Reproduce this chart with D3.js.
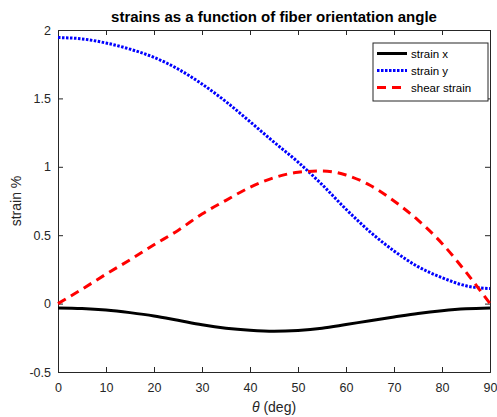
<!DOCTYPE html>
<html>
<head>
<meta charset="utf-8">
<script src="https://cdn.jsdelivr.net/npm/d3@7"></script>
<style>
  body { margin: 0; background: #fff; }
  text { font-family: "Liberation Sans", Arial, sans-serif; }
</style>
</head>
<body>
<script>
// fiber angle (deg)
var theta = [0, 5, 10, 15, 20, 25, 30, 35, 40, 45, 50, 55, 60, 65, 70, 75, 80, 85, 90];

var strainX = [-0.032, -0.036, -0.047, -0.066, -0.09, -0.122, -0.155, -0.18, -0.195, -0.202,
               -0.196, -0.18, -0.153, -0.125, -0.098, -0.072, -0.052, -0.038, -0.032];
var strainY = [1.945, 1.935, 1.905, 1.86, 1.80, 1.715, 1.605, 1.476, 1.33, 1.18,
               1.035, 0.87, 0.69, 0.525, 0.385, 0.27, 0.19, 0.13, 0.11];
var shear = [0, 0.105, 0.215, 0.32, 0.43, 0.535, 0.655, 0.755, 0.85, 0.92,
             0.96, 0.97, 0.94, 0.865, 0.75, 0.61, 0.44, 0.23, 0];

var xTicks = [0, 10, 20, 30, 40, 50, 60, 70, 80, 90];
var yTicks = [-0.5, 0, 0.5, 1, 1.5, 2];

var margin = {left: 58, right: 7, top: 30, bottom: 45};
var W = 497, H = 417;
var width = W - margin.left - margin.right;
var height = H - margin.top - margin.bottom;

var axisCol = "#262626";

var x = d3.scaleLinear().domain([0, 90]).range([0, width]);
var y = d3.scaleLinear().domain([-0.5, 2]).range([height, 0]);

var svg = d3.select("body").append("svg").attr("width", W).attr("height", H);
var g = svg.append("g").attr("transform", "translate(" + margin.left + "," + margin.top + ")");

// axes, MATLAB style box with inner ticks
var xAxis = d3.axisBottom(x).tickValues(xTicks).tickSize(-5).tickPadding(11).tickFormat(d3.format("d"));
var yAxis = d3.axisLeft(y).tickValues(yTicks).tickSize(-5).tickPadding(7).tickFormat(function(d){ return d; });
var xTop = d3.axisTop(x).tickValues(xTicks).tickSize(-5).tickFormat("");
var yRight = d3.axisRight(y).tickValues(yTicks).tickSize(-5).tickFormat("");

function style(sel) {
  sel.select(".domain").attr("stroke", axisCol);
  sel.selectAll(".tick line").attr("stroke", axisCol);
  sel.selectAll(".tick text").attr("fill", axisCol).style("font-size", "12.5px")
    .style("font-family", "'Liberation Sans', Arial, sans-serif");
}

g.append("g").attr("transform", "translate(0," + height + ")").call(xAxis).call(style);
g.append("g").call(yAxis).call(style);
g.append("g").call(xTop).call(style);
g.append("g").attr("transform", "translate(" + width + ",0)").call(yRight).call(style);

var line = function(vals) {
  return d3.line()
    .x(function(d, i){ return x(theta[i]); })
    .y(function(d){ return y(d); })
    .curve(d3.curveMonotoneX)(vals);
};

g.append("path").attr("d", line(strainX)).attr("fill", "none").attr("stroke", "#000")
  .attr("stroke-width", 3);
g.append("path").attr("d", line(strainY)).attr("fill", "none").attr("stroke", "#0000ff")
  .attr("stroke-width", 3).attr("stroke-dasharray", "2.5,1.5");
g.append("path").attr("d", line(shear)).attr("fill", "none").attr("stroke", "#ff0000")
  .attr("stroke-width", 3).attr("stroke-dasharray", "9,6");

// title and labels
svg.append("text").attr("x", margin.left + width / 2).attr("y", 22)
  .attr("text-anchor", "middle").style("font-size", "15px").style("font-weight", "bold")
  .attr("fill", "#000").text("strains as a function of fiber orientation angle");

svg.append("text").attr("transform", "translate(21," + (margin.top + height / 2) + ") rotate(-90)")
  .attr("text-anchor", "middle").style("font-size", "14px").attr("fill", axisCol).text("strain %");

var xl = svg.append("text").attr("x", margin.left + width / 2).attr("y", 412)
  .attr("text-anchor", "middle").style("font-size", "14px").attr("fill", axisCol);
xl.append("tspan").style("font-style", "italic").text("θ");
xl.append("tspan").text(" (deg)");

// legend
var names = ["strain x", "strain y", "shear strain"];
var cols = ["#000", "#0000ff", "#ff0000"];
var dashes = [null, "2.5,1.5", "9,6"];
var leg = svg.append("g").attr("transform", "translate(373,43)");
leg.append("rect").attr("width", 115).attr("height", 58).attr("fill", "#fff")
  .attr("stroke", axisCol).attr("stroke-width", 1);
names.forEach(function(n, i) {
  var yy = 10.5 + i * 17;
  leg.append("line").attr("x1", 4).attr("x2", 34).attr("y1", yy).attr("y2", yy)
    .attr("stroke", cols[i]).attr("stroke-width", 3).attr("stroke-dasharray", dashes[i]);
  leg.append("text").attr("x", 38).attr("y", yy + 4).style("font-size", "11.5px")
    .attr("fill", "#000").text(n);
});
</script>
</body>
</html>
